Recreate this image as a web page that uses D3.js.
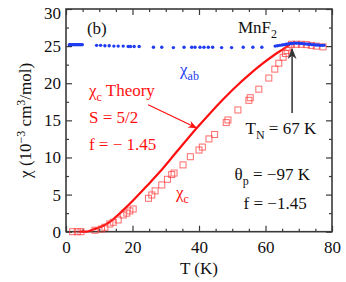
<!DOCTYPE html>
<html lang="en">
<head>
  <meta charset="UTF-8">
  <title>MnF2 susceptibility</title>
  <script src="https://d3js.org/d3.v7.min.js"></script>
  <style>
    body { margin: 0; background: #fff; }
  </style>
</head>
<body>
  <script>
    // chi_ab (blue dots)
    const abT = [1, 1.3, 1.6, 1.9, 2.2, 2.5, 2.8, 3.1, 3.4, 3.7, 4, 4.3, 4.6, 4.9,
      9.2, 10.4, 11.7, 13, 14.4, 15.7, 17.2, 18.7, 19.4, 20.5, 22,
      26.3, 28.8, 32.3, 35.5, 37.8, 38.8, 40.3, 41.5, 42.8, 44.1, 46.8, 49.8, 53.3, 56.2, 58.9,
      62.9, 63.6, 64.3, 65, 65.6, 66.2, 66.8, 67.4, 68, 68.6, 69.2, 69.8, 70.4, 71, 71.6,
      72.2, 72.8, 73.4, 74, 74.6, 75.2, 75.8, 76.4, 77, 77.6];
    const abChi = [25.2, 25.2, 25.2, 25.2, 25.2, 25.2, 25.2, 25.2, 25.2, 25.2, 25.2, 25.2, 25.2, 25.2,
      25.1, 25.1, 25.05, 25.05, 25.0, 25.0, 25.0, 24.95, 24.95, 24.95, 24.95,
      24.85, 24.85, 24.8, 24.85, 24.85, 24.85, 24.85, 24.85, 24.85, 24.85, 24.8, 24.8, 24.85, 24.85, 24.85,
      25.0, 25.05, 25.1, 25.15, 25.2, 25.25, 25.3, 25.35, 25.35, 25.4, 25.4, 25.4, 25.35, 25.35, 25.3,
      25.3, 25.25, 25.25, 25.2, 25.2, 25.15, 25.15, 25.1, 25.1, 25.1];

    // chi_c (red open squares)
    const cT = [2, 3.4, 4.5, 8.7, 10.7, 11.7, 13.2, 14.2, 15.7, 17.2, 18.3, 19.2, 20.2,
      24.8, 25.8, 26.8, 28.8, 30.5, 31.8, 32.5, 35.2, 37.4, 40, 41, 43, 44.7,
      48.2, 48.7, 51.7, 55, 55.4, 58, 61, 62.8, 64, 65.3, 66, 66.5, 67, 67.8,
      69.3, 70.8, 72.3, 73.8, 75.3, 77.3];
    const cChi = [0, 0, 0, 0.2, 0.36, 0.6, 1.04, 1.27, 1.58, 2.25, 2.5, 2.8, 3.06,
      4.5, 4.95, 5.5, 6.3, 7.06, 7.7, 7.9, 9.0, 10.1, 11.0, 11.4, 12.5, 13.1,
      14.7, 15.05, 16.4, 17.7, 18.05, 19.2, 20.7, 21.9, 22.7, 23.5, 24.0, 24.4, 24.85, 25.25,
      25.25, 25.25, 25.2, 25.1, 25.0, 24.9];

    // chi_c theory (red line)
    const thT = [4, 6, 7, 8.2, 10.2, 12.2, 14.2, 17.2, 20.3, 24.3, 28.3, 31.3, 34.3, 39.2,
      43, 47.2, 51, 55.2, 59, 62.3, 65.3, 67.3];
    const thChi = [0, 0.02, 0.1, 0.3, 0.6, 1.04, 1.67, 2.9, 4.27, 6.16, 8.1, 9.7, 11.3, 13.9,
      15.8, 17.8, 19.5, 21.2, 22.6, 23.7, 24.6, 25.2];

    const xMajor = [0, 20, 40, 60, 80];
    const yMajor = [0, 5, 10, 15, 20, 25, 30];

    const width = 346, height = 282;
    const margin = {top: 9, right: 14, bottom: 50.3, left: 66};
    const serif = "'Times New Roman', Times, 'Liberation Serif', 'Nimbus Roman', 'Nimbus Roman No9 L', Tinos, 'Noto Serif', 'DejaVu Serif', FreeSerif, serif";

    const svg = d3.select("body").append("svg")
      .attr("width", width)
      .attr("height", height)
      .attr("font-family", serif);

    const x = d3.scaleLinear().domain([0, 80]).range([margin.left, width - margin.right]);
    const y = d3.scaleLinear().domain([0, 30]).range([height - margin.bottom, margin.top]);

    const xMinor = d3.range(0, 81, 5).filter(v => v % 20 !== 0);
    const yMinor = d3.range(0, 30.1, 2.5).filter(v => v % 5 !== 0);
    const axisColor = "#3a3a3a";

    function styleAxis(g) {
      g.attr("font-family", serif).attr("font-size", 17);
      g.select(".domain").remove();
      g.selectAll("line").attr("stroke", axisColor).attr("stroke-width", 1.2);
      g.selectAll("text").attr("fill", "#111");
    }

    // bottom
    svg.append("g").attr("transform", `translate(0,${y(0)})`)
      .call(d3.axisBottom(x).tickValues(xMajor).tickSize(-6).tickPadding(9).tickFormat(d3.format("d")))
      .call(styleAxis);
    svg.append("g").attr("transform", `translate(0,${y(0)})`)
      .call(d3.axisBottom(x).tickValues(xMinor).tickSize(-3).tickFormat(""))
      .call(styleAxis);
    // top
    svg.append("g").attr("transform", `translate(0,${y(30)})`)
      .call(d3.axisTop(x).tickValues(xMajor).tickSize(-6).tickFormat(""))
      .call(styleAxis);
    svg.append("g").attr("transform", `translate(0,${y(30)})`)
      .call(d3.axisTop(x).tickValues(xMinor).tickSize(-3).tickFormat(""))
      .call(styleAxis);
    // left
    const yAx = svg.append("g").attr("transform", `translate(${x(0)},0)`)
      .call(d3.axisLeft(y).tickValues(yMajor).tickSize(-6).tickPadding(5).tickFormat(d3.format("d")))
      .call(styleAxis);
    yAx.selectAll(".tick").filter(d => d === 30).select("text").attr("dy", "0.55em");
    svg.append("g").attr("transform", `translate(${x(0)},0)`)
      .call(d3.axisLeft(y).tickValues(yMinor).tickSize(-3).tickFormat(""))
      .call(styleAxis);
    // right
    svg.append("g").attr("transform", `translate(${x(80)},0)`)
      .call(d3.axisRight(y).tickValues(yMajor).tickSize(-6).tickFormat(""))
      .call(styleAxis);
    svg.append("g").attr("transform", `translate(${x(80)},0)`)
      .call(d3.axisRight(y).tickValues(yMinor).tickSize(-3).tickFormat(""))
      .call(styleAxis);

    // frame
    svg.append("rect")
      .attr("x", x(0)).attr("y", y(30))
      .attr("width", x(80) - x(0)).attr("height", y(0) - y(30))
      .attr("fill", "none").attr("stroke", axisColor).attr("stroke-width", 1.6);

    // theory line
    const thData = thT.map((t, i) => [t, thChi[i]]);
    svg.append("path")
      .datum(thData)
      .attr("d", d3.line().x(d => x(d[0])).y(d => y(d[1])).curve(d3.curveMonotoneX))
      .attr("fill", "none")
      .attr("stroke", "#ff1010")
      .attr("stroke-width", 2.2);

    // chi_c squares
    svg.append("g").selectAll("rect")
      .data(cT.map((t, i) => [t, cChi[i]]))
      .join("rect")
      .attr("x", d => x(d[0]) - 3)
      .attr("y", d => y(d[1]) - 3)
      .attr("width", 6).attr("height", 6)
      .attr("fill", "none")
      .attr("stroke", "#ff3a3a")
      .attr("stroke-opacity", 0.75)
      .attr("stroke-width", 1);

    // chi_ab dots
    svg.append("g").selectAll("circle")
      .data(abT.map((t, i) => [t, abChi[i]]))
      .join("circle")
      .attr("cx", d => x(d[0]))
      .attr("cy", d => y(d[1]))
      .attr("r", 1.7)
      .attr("fill", "#1f3cf0");

    // arrow markers
    const defs = svg.append("defs");
    defs.append("marker").attr("id", "redhead")
      .attr("viewBox", "0 0 10 10").attr("refX", 9).attr("refY", 5)
      .attr("markerWidth", 9).attr("markerHeight", 9).attr("markerUnits", "userSpaceOnUse")
      .attr("orient", "auto")
      .append("path").attr("d", "M0,1 L10,5 L0,9 L3,5 Z").attr("fill", "#ff1010");
    defs.append("marker").attr("id", "blackhead")
      .attr("viewBox", "0 0 10 10").attr("refX", 9).attr("refY", 5)
      .attr("markerWidth", 11).attr("markerHeight", 11).attr("markerUnits", "userSpaceOnUse")
      .attr("orient", "auto")
      .append("path").attr("d", "M0,1 L10,5 L0,9 L3,5 Z").attr("fill", "#333");

    svg.append("line")
      .attr("x1", x(24.7)).attr("y1", y(17.1))
      .attr("x2", x(39.2)).attr("y2", y(14.0))
      .attr("stroke", "#ff1010").attr("stroke-width", 1.2)
      .attr("marker-end", "url(#redhead)");

    svg.append("line")
      .attr("x1", x(68)).attr("y1", y(16.0))
      .attr("x2", x(68)).attr("y2", y(24.6))
      .attr("stroke", "#333").attr("stroke-width", 1.5)
      .attr("marker-end", "url(#blackhead)");

    // annotations
    function label(tx, ty, color, parts) {
      const t = svg.append("text")
        .attr("x", x(tx)).attr("y", y(ty))
        .attr("fill", color)
        .attr("font-size", 17);
      parts.forEach(p => {
        const s = t.append("tspan").text(p.t);
        if (p.sub) s.attr("dy", 5).attr("font-size", 12);
        if (p.back) s.attr("dy", -5);
      });
      return t;
    }

    label(6.3, 26.6, "#111", [{t: "(b)"}]);
    label(51.7, 26.8, "#111", [{t: "MnF"}, {t: "2", sub: true}]);
    label(34.3, 21.1, "#1f3cf0", [{t: "χ"}, {t: "ab", sub: true}]);
    label(6.9, 18.3, "#ff1010", [{t: "χ"}, {t: "c", sub: true}, {t: " Theory", back: true}]);
    label(6.9, 14.6, "#ff1010", [{t: "S = 5/2"}]);
    label(6.9, 11.0, "#ff1010", [{t: "f = − 1.45"}]);
    label(54.0, 13.2, "#111", [{t: "T"}, {t: "N", sub: true}, {t: " = 67 K", back: true}]);
    label(33.1, 4.5, "#ff1010", [{t: "χ"}, {t: "c", sub: true}]);
    label(50.7, 7.0, "#111", [{t: "θ"}, {t: "p", sub: true}, {t: " = −97 K", back: true}]);
    label(53.4, 3.06, "#111", [{t: "f = −1.45"}]);

    // axis titles
    svg.append("text")
      .attr("x", (x(0) + x(80)) / 2)
      .attr("y", 274)
      .attr("text-anchor", "middle")
      .attr("fill", "#111")
      .attr("font-size", 17)
      .text("T (K)");

    const yl = svg.append("text")
      .attr("transform", `translate(31,${(y(0) + y(30)) / 2}) rotate(-90)`)
      .attr("text-anchor", "middle")
      .attr("fill", "#111")
      .attr("font-size", 17);
    yl.append("tspan").text("χ (10");
    yl.append("tspan").text("−3").attr("dy", -6).attr("font-size", 12);
    yl.append("tspan").text(" cm").attr("dy", 6);
    yl.append("tspan").text("3").attr("dy", -6).attr("font-size", 12);
    yl.append("tspan").text("/mol)").attr("dy", 6);
  </script>
</body>
</html>
